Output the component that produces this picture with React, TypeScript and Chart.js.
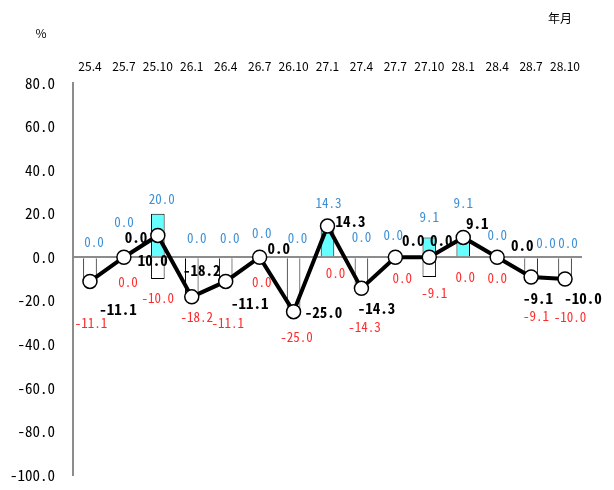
import { useEffect, useRef } from "react";
import { Chart, registerables } from "chart.js";

Chart.register(...registerables);

// ---- data ----
const CATEGORIES = ["25.4", "25.7", "25.10", "26.1", "26.4", "26.7", "26.10", "27.1", "27.4", "27.7", "27.10", "28.1", "28.4", "28.7", "28.10"];
const POSITIVE = [0, 0, 20, 0, 0, 0, 0, 14.3, 0, 0, 9.1, 9.1, 0, 0, 0];
const NEGATIVE = [-11.1, 0, -10, -18.2, -11.1, 0, -25, 0, -14.3, 0, -9.1, 0, 0, -9.1, -10];
const NET = [-11.1, 0, 10, -18.2, -11.1, 0, -25, 14.3, -14.3, 0, 0, 9.1, 0, -9.1, -10];
const Y_MIN = -100;
const Y_MAX = 80;
const Y_STEP = 20;
const Y_UNIT = "%";
const X_UNIT = "年月";

// ---- label placement (pixel offsets from each mark) ----
const POS_DX = [4, 0, 4, 5, 4, 2, 4, 1, 0, -2, 0, 0, 0, 15, 3];
const POS_DY = [-15, -35, -15, -19, -19, -24, -19, -23, -20, -22, -20, -34, -22, -14, -14];
const NEG_DX = [1, 4, 0, 5, 2, 2, 3, 8, 3, 7, 5, 2, 0, 5, 5];
const NEG_DY = [42, 25, 19, 20, 42, 25, 25, 16, 39, 21, 16, 20, 21, 39, 38];
const NET_DX = [28, 12, -5, 10, 24, 19, 30, 23, 15, 18, 12, 14, 25, 7, 18];
const NET_DY = [28, -20, 25, -27, 22, -9, 1, -5, 20, -17, -17, -14, -12, 21, 19];

const MONO = '"Noto Sans Mono CJK JP", "Noto Sans CJK JP", "DejaVu Sans Mono", monospace';
const SANS = '"Noto Sans CJK JP", "Liberation Sans", sans-serif';
const BLUE = "#3b8fd6";
const RED = "#ff2a2a";

const labelsPlugin = {
  id: "valueLabels",
  afterDatasetsDraw(chart: any) {
    const ctx = chart.ctx as CanvasRenderingContext2D;
    const posMeta = chart.getDatasetMeta(0);
    const negMeta = chart.getDatasetMeta(1);
    const netMeta = chart.getDatasetMeta(2);
    ctx.save();
    ctx.textAlign = "center";
    ctx.textBaseline = "middle";
    ctx.font = `13px ${MONO}`;
    ctx.fillStyle = BLUE;
    POSITIVE.forEach((v, i) => {
      const el = posMeta.data[i];
      ctx.fillText(v.toFixed(1), el.x + POS_DX[i], el.y + POS_DY[i]);
    });
    ctx.fillStyle = RED;
    NEGATIVE.forEach((v, i) => {
      const el = negMeta.data[i];
      ctx.fillText(v.toFixed(1), el.x + NEG_DX[i], el.y + NEG_DY[i]);
    });
    ctx.font = `bold 15px ${MONO}`;
    ctx.fillStyle = "#000";
    NET.forEach((v, i) => {
      const el = netMeta.data[i];
      ctx.fillText(v.toFixed(1), el.x + NET_DX[i], el.y + NET_DY[i]);
    });
    ctx.restore();
  },
  afterDraw(chart: any) {
    const ctx = chart.ctx as CanvasRenderingContext2D;
    const area = chart.chartArea;
    ctx.save();
    ctx.fillStyle = "#000";
    ctx.textAlign = "center";
    ctx.textBaseline = "middle";
    ctx.font = `12px ${SANS}`;
    ctx.fillText(Y_UNIT, area.left - 32, area.top - 50);
    ctx.fillText(X_UNIT, area.right - 22, area.top - 65);
    ctx.restore();
  },
};

export default function App() {
  const ref = useRef<HTMLCanvasElement | null>(null);
  useEffect(() => {
    if (!ref.current) return;
    const chart = new Chart(ref.current, {
      type: "bar",
      data: {
        labels: CATEGORIES,
        datasets: [
          {
            type: "bar",
            data: POSITIVE,
            backgroundColor: "#66ffff",
            borderColor: "#000",
            borderWidth: 1,
            grouped: false,
            barPercentage: 0.4,
            categoryPercentage: 1,
            order: 2,
          } as any,
          {
            type: "bar",
            data: NEGATIVE,
            backgroundColor: "#ffffff",
            borderColor: "#000",
            borderWidth: 1,
            grouped: false,
            barPercentage: 0.4,
            categoryPercentage: 1,
            order: 2,
          } as any,
          {
            type: "line",
            data: NET,
            borderColor: "#000",
            borderWidth: 4,
            pointRadius: 7,
            pointBackgroundColor: "#fff",
            pointBorderColor: "#000",
            pointBorderWidth: 1.5,
            tension: 0,
            order: 1,
          } as any,
        ],
      },
      options: {
        responsive: true,
        maintainAspectRatio: false,
        animation: false,
        layout: { padding: { left: 0, right: 32, top: 0, bottom: 15 } },
        plugins: { legend: { display: false }, tooltip: { enabled: false } },
        scales: {
          x: {
            position: "top",
            grid: { display: false, drawTicks: false },
            border: { display: false },
            ticks: {
              font: { family: SANS, size: 12 },
              color: "#000",
              padding: 9,
              maxRotation: 0,
              autoSkip: false,
            },
            afterFit(scale: any) {
              scale.height = 83;
            },
          },
          y: {
            min: Y_MIN,
            max: Y_MAX,
            grid: {
              drawTicks: false,
              color: (c: any) => (c.tick && c.tick.value === 0 ? "#8c8c8c" : "rgba(0,0,0,0)"),
              lineWidth: 2,
            },
            border: { display: true, color: "#8c8c8c", width: 2 },
            ticks: {
              stepSize: Y_STEP,
              font: { family: MONO, size: 15 },
              color: "#000",
              padding: 18,
              callback: (v: any) => Number(v).toFixed(1),
            },
            afterFit(scale: any) {
              scale.width = 73;
              scale.paddingTop = 0;
              scale.paddingBottom = 0;
            },
          },
        },
      },
      plugins: [labelsPlugin],
    });
    return () => chart.destroy();
  }, []);
  return (
    <div style={{ position: "absolute", left: 0, top: 0, width: 614, height: 490, background: "#fff" }}>
      <canvas ref={ref} />
    </div>
  );
}
